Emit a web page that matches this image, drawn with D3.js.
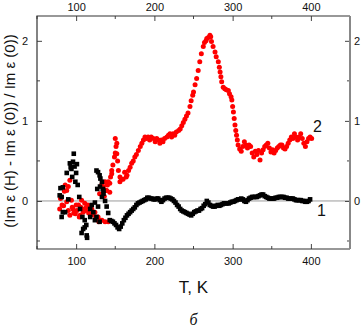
<!DOCTYPE html>
<html lang="en">
<head>
<meta charset="UTF-8">
<title>Im eps chart</title>
<script src="https://d3js.org/d3.v7.js"></script>
<style>
  body { margin: 0; background: #fff; }
  text { font-family: "Liberation Sans", Arial, sans-serif; fill: #111; }
</style>
</head>
<body>
<script>
// series 1 (black squares), [T, value]
const series1 = [
  [79,0.07],[80,0.16],[81.5,-0.2],[81.5,0.05],[83,0.17],[83,-0.14],[86,-0.14],[88,0.35],[90,0.02],
  [92,0.47],[93,0.42],[94,0.4],[95,0.3],[96,0.49],[97,0.59],[98,0.43],[99,0.24],[100,0.35],[101,0.46],
  [102,0.2],[104,0.05],[105,-0.1],[107,-0.4],[108,-0.2],[109,-0.35],[111,-0.24],[111,-0.33],[113,-0.3],
  [113.5,-0.43],[114,-0.46],[118,-0.1],[118,-0.2],[120,-0.05],[122,-0.14],[124,-0.02],[124,-0.24],
  [126,-0.2],[126,0.38],[127,0.15],[128,0.36],[128,-0.07],[130,0.32],[130,-0.26],[130.5,0.18],[131,0.28],
  [133,0.24],[133,0.05],[134,0.15],[135,0.09],[135,0.13],[137,0.0],[139,-0.07],[141,-0.15],
  [143,-0.24],[145,-0.25],[147,-0.26],[149,-0.28],[151,-0.3],[153,-0.33],[155,-0.35],[157,-0.32],
  [159,-0.28],[161,-0.24],[163,-0.21],[165,-0.18],[167,-0.16],[169,-0.14],[171,-0.12],[173,-0.1],
  [175,-0.08],[177,-0.05],[179,-0.03],[181,-0.02],[183,-0.01],[185,0.0],[187,0.01],[189,0.02],
  [191,0.04],[193,0.04],[195,0.03],[197,0.03],[199,0.02],[201,0.02],[203,0.03],[205,0.03],[207,0.01],
  [209,-0.01],[211,0.01],[213,0.03],[215,0.04],[217,0.04],[219,0.04],[221,0.03],[223,0.02],[225,0.0],
  [227,-0.02],[229,-0.05],[231,-0.07],[233,-0.1],[235,-0.12],[237,-0.13],[239,-0.14],[241,-0.15],
  [243,-0.16],[245,-0.17],[247,-0.18],[249,-0.16],[251,-0.14],[253,-0.13],[255,-0.12],[257,-0.12],
  [259,-0.1],[261,-0.09],[263,-0.06],[265,-0.04],[267,0.0],[269,-0.02],[271,-0.05],[273,-0.06],
  [275,-0.07],[277,-0.07],[279,-0.06],[281,-0.05],[283,-0.06],[285,-0.05],[287,-0.04],[289,-0.03],
  [291,-0.03],[293,-0.03],[295,-0.03],[297,-0.02],[299,-0.01],[301,-0.01],[303,0.0],[305,0.01],
  [307,0.02],[309,0.02],[311,0.03],[313,0.02],[315,0.0],[317,-0.01],[319,0.01],[321,0.03],[323,0.04],
  [325,0.05],[327,0.05],[329,0.05],[331,0.05],[333,0.06],[335,0.07],[337,0.08],[339,0.08],[341,0.06],
  [343,0.05],[345,0.04],[347,0.03],[349,0.03],[351,0.03],[353,0.03],[355,0.04],[357,0.04],[359,0.05],
  [361,0.05],[363,0.05],[365,0.05],[367,0.04],[369,0.04],[371,0.03],[373,0.03],[375,0.03],[377,0.03],
  [379,0.02],[381,0.01],[383,0.01],[385,0.01],[387,0.01],[389,0.0],[391,0.0],[393,-0.01],[395,-0.01],
  [397,0.0],[399,0.02]
];

// series 2 (red circles), [T, value]
const series2 = [
  [79,-0.1],[80,0.03],[81.5,0.05],[82,-0.05],[84,-0.06],[85,0.12],[86,0.2],[88,0.13],[88,-0.01],
  [90,0.18],[90,-0.12],[92,0.26],[92,-0.18],[94,0.01],[95,-0.08],[96,-0.1],[97,-0.15],[99,-0.16],
  [100,-0.05],[101,-0.12],[103,-0.05],[104,-0.2],[105,-0.18],[106,-0.08],[107,0.01],[108,-0.1],
  [109,-0.14],[111,-0.03],[112,-0.12],[113,-0.08],[115,-0.05],[116,-0.15],[118,-0.1],[120,-0.1],
  [121,-0.17],[122,-0.14],[124,-0.14],[125,-0.2],[126,-0.22],[128,-0.2],[129,-0.26],[130,0.09],
  [131,-0.24],[132.7,0.2],[133,-0.24],[134,0.09],[135,0.18],[136,0.06],[137,0.24],[137,-0.26],
  [138,0.13],[139,0.13],[140,0.2],[141,0.24],[141,-0.26],[143,0.22],[143,0.11],[144,0.3],[145.5,0.34],
  [145.5,0.38],[147,0.45],[149,0.55],[150,0.6],[150,0.78],[151,0.68],[152,0.72],[152,0.59],[153,0.5],
  [154,0.38],[156,0.3],[156,0.24],[158,0.27],[160,0.27],[162,0.36],[164,0.3],[165,0.32],[167,0.38],
  [169,0.42],[171,0.47],[173,0.5],[175,0.55],[177,0.58],[179.5,0.63],[182,0.68],[184,0.72],[186,0.76],
  [188,0.8],[190,0.78],[192,0.8],[194,0.76],[196,0.8],[198.6,0.78],[201,0.74],[203,0.78],[205,0.76],
  [207,0.72],[209,0.76],[211,0.74],[213,0.78],[216,0.8],[218,0.82],[220,0.84],[222,0.8],[224,0.84],
  [226,0.82],[228,0.86],[231,0.88],[233,0.9],[235,0.94],[237,0.98],[239,1.02],[241,1.06],[243,1.1],
  [245.5,1.18],[247,1.25],[249,1.32],[250,1.36],[252,1.45],[254,1.53],[256,1.63],[258,1.74],
  [260,1.84],[262.5,1.93],[264,1.98],[266,2.0],[267,2.03],[269,2.04],[271,2.07],[272,2.05],[273,1.99],
  [275,1.93],[277.5,1.86],[279,1.8],[281.7,1.74],[283,1.67],[284,1.61],[285,1.55],[286,1.49],
  [288,1.42],[290,1.4],[292,1.39],[294.5,1.38],[296,1.34],[298,1.3],[299,1.26],[300,1.18],[301,1.11],
  [302,1.03],[303,0.95],[304,0.88],[305,0.82],[306,0.76],[307,0.7],[309,0.65],[311,0.62],[313,0.68],
  [315,0.74],[317,0.7],[319,0.66],[321,0.7],[323,0.68],[325,0.6],[327,0.55],[329,0.62],[331,0.58],
  [333,0.63],[335,0.51],[337,0.6],[339,0.64],[341,0.68],[343,0.7],[345,0.72],[347,0.66],[349,0.61],
  [351,0.64],[353,0.6],[355,0.63],[357,0.66],[359,0.68],[361,0.7],[363,0.7],[365,0.66],[367,0.65],
  [369,0.68],[371,0.72],[373,0.76],[375,0.8],[377,0.78],[379,0.84],[381,0.8],[383,0.76],[385,0.8],
  [387,0.84],[389,0.78],[391,0.72],[393,0.68],[395,0.74],[397,0.78],[399,0.8],[401,0.78]
];

const xTicks = [100, 200, 300, 400];
const xMinor = [50, 150, 250, 350, 450];
const yTicks = [0, 1, 2];
const yMinor = [-0.5, 0.5, 1.5];

const width = 361, height = 332;
const m = {left: 37, right: 11, top: 16, bottom: 83};
const iw = width - m.left - m.right, ih = height - m.top - m.bottom;

const svg = d3.select("body").append("svg")
    .attr("width", width)
    .attr("height", height);

const x = d3.scaleLinear().domain([50, 450]).range([0, iw]);
const y = d3.scaleLinear().domain([-0.6, 2.31]).range([ih, 0]);

const g = svg.append("g").attr("transform", `translate(${m.left},${m.top})`);

// zero line
g.append("line")
    .attr("x1", 0).attr("x2", iw)
    .attr("y1", y(0)).attr("y2", y(0))
    .attr("stroke", "#9a9a9a").attr("stroke-width", 1);

// axes, ticks inward
function styleAxis(sel) {
  sel.select(".domain").remove();
  sel.selectAll("line").attr("stroke", "#444");
  sel.selectAll("text").attr("font-size", 11).attr("fill", "#111")
     .style("font-family", '"Liberation Sans", Arial, sans-serif');
}
const axes = [
  [d3.axisBottom(x).tickValues(xTicks).tickSizeInner(-5).tickPadding(8), `translate(0,${ih})`, xMinor, "b"],
  [d3.axisTop(x).tickValues(xTicks).tickSizeInner(-5).tickPadding(5), null, xMinor, "t"],
  [d3.axisLeft(y).tickValues(yTicks).tickSizeInner(-5).tickPadding(9), null, yMinor, "l"],
  [d3.axisRight(y).tickValues(yTicks).tickSizeInner(-5).tickPadding(4), `translate(${iw},0)`, yMinor, "r"]
];
axes.forEach(([ax, tr, minor, side]) => {
  const a = g.append("g").call(ax.tickFormat(d3.format("d")));
  if (tr) a.attr("transform", tr);
  styleAxis(a);
  const mg = a.append("g");
  minor.forEach(v => {
    const l = mg.append("line").attr("stroke", "#444");
    if (side === "b") l.attr("x1", x(v)).attr("x2", x(v)).attr("y1", 0).attr("y2", -3);
    if (side === "t") l.attr("x1", x(v)).attr("x2", x(v)).attr("y1", 0).attr("y2", 3);
    if (side === "l") l.attr("y1", y(v)).attr("y2", y(v)).attr("x1", 0).attr("x2", 3);
    if (side === "r") l.attr("y1", y(v)).attr("y2", y(v)).attr("x1", 0).attr("x2", -3);
  });
});

// frame: dark on left/top/bottom, grey and heavier on the right
g.append("path")
    .attr("d", `M${iw},0H0V${ih}H${iw}`)
    .attr("fill", "none").attr("stroke", "#333").attr("stroke-width", 1.2);
g.append("line")
    .attr("x1", iw).attr("x2", iw).attr("y1", 0).attr("y2", ih)
    .attr("stroke", "#888").attr("stroke-width", 2);

// series 2 red circles
g.append("g").selectAll("circle")
    .data(series2).enter().append("circle")
    .attr("cx", d => x(d[0])).attr("cy", d => y(d[1]))
    .attr("r", 2.5).attr("fill", "#ff0000");

// series 1 black squares
const s = 4.6;
g.append("g").selectAll("rect")
    .data(series1).enter().append("rect")
    .attr("x", d => x(d[0]) - s / 2).attr("y", d => y(d[1]) - s / 2)
    .attr("width", s).attr("height", s).attr("fill", "#000");

// series labels
svg.append("text").attr("x", 313).attr("y", 132).attr("font-size", 16).text("2");
svg.append("text").attr("x", 317).attr("y", 216).attr("font-size", 16).text("1");

// axis titles
svg.append("text")
    .attr("x", m.left + iw / 2).attr("y", 293)
    .attr("text-anchor", "middle").attr("font-size", 17)
    .text("T, K");

svg.append("text")
    .attr("transform", "translate(15,131) rotate(-90)")
    .attr("text-anchor", "middle").attr("font-size", 15)
    .text("(Im ε (H) - Im ε (0)) / Im ε (0))");

svg.append("text")
    .attr("x", m.left + iw / 2).attr("y", 325)
    .attr("text-anchor", "middle").attr("font-size", 16)
    .style("font-family", '"Liberation Serif", "DejaVu Serif", serif')
    .attr("font-style", "italic")
    .text("б");
</script>
</body>
</html>
